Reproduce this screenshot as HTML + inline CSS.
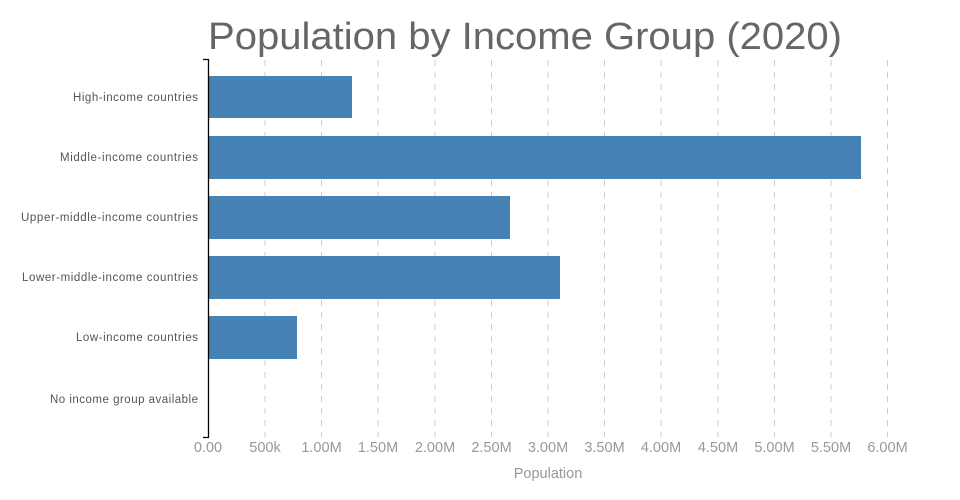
<!DOCTYPE html>
<html><head><style>
body{margin:0;background:#fff;}
svg{display:block;font-family:"Liberation Sans",sans-serif;}
</style></head><body>
<svg width="960" height="500" viewBox="0 0 960 500">
<text x="208" y="49" font-size="38" fill="#666" textLength="634" lengthAdjust="spacingAndGlyphs">Population by Income Group (2020)</text>
<g stroke="#ccc" stroke-width="1" stroke-dasharray="6,6">
<line x1="265" y1="60" x2="265" y2="437"/>
<line x1="321.5" y1="60" x2="321.5" y2="437"/>
<line x1="378" y1="60" x2="378" y2="437"/>
<line x1="435" y1="60" x2="435" y2="437"/>
<line x1="491.5" y1="60" x2="491.5" y2="437"/>
<line x1="548" y1="60" x2="548" y2="437"/>
<line x1="604.5" y1="60" x2="604.5" y2="437"/>
<line x1="661" y1="60" x2="661" y2="437"/>
<line x1="718" y1="60" x2="718" y2="437"/>
<line x1="774.5" y1="60" x2="774.5" y2="437"/>
<line x1="831" y1="60" x2="831" y2="437"/>
<line x1="887.5" y1="60" x2="887.5" y2="437"/>
</g>
<g fill="#4682b4">
<rect x="208" y="76" width="144" height="42"/>
<rect x="208" y="136" width="653" height="43"/>
<rect x="208" y="196" width="302" height="43"/>
<rect x="208" y="256" width="352" height="43"/>
<rect x="208" y="316" width="89" height="43"/>
</g>
<path d="M203 59.5H208.5V437.5H203" fill="none" stroke="#000" stroke-width="1.3"/>
<g font-size="11.5" fill="#555" lengthAdjust="spacingAndGlyphs">
<text x="73" y="101" textLength="125">High-income countries</text>
<text x="60" y="161" textLength="138">Middle-income countries</text>
<text x="21" y="221" textLength="177">Upper-middle-income countries</text>
<text x="22" y="281" textLength="176">Lower-middle-income countries</text>
<text x="76" y="341" textLength="122">Low-income countries</text>
<text x="50" y="403" textLength="148">No income group available</text>
</g>
<g font-size="14.5" fill="#999" text-anchor="middle">
<text x="208" y="452">0.00</text>
<text x="265" y="452">500k</text>
<text x="321.5" y="452">1.00M</text>
<text x="378" y="452">1.50M</text>
<text x="435" y="452">2.00M</text>
<text x="491.5" y="452">2.50M</text>
<text x="548" y="452">3.00M</text>
<text x="604.5" y="452">3.50M</text>
<text x="661" y="452">4.00M</text>
<text x="718" y="452">4.50M</text>
<text x="774.5" y="452">5.00M</text>
<text x="831" y="452">5.50M</text>
<text x="887.5" y="452">6.00M</text>
</g>
<text x="548" y="478" text-anchor="middle" font-size="14.5" fill="#999">Population</text>
</svg>
</body></html>
